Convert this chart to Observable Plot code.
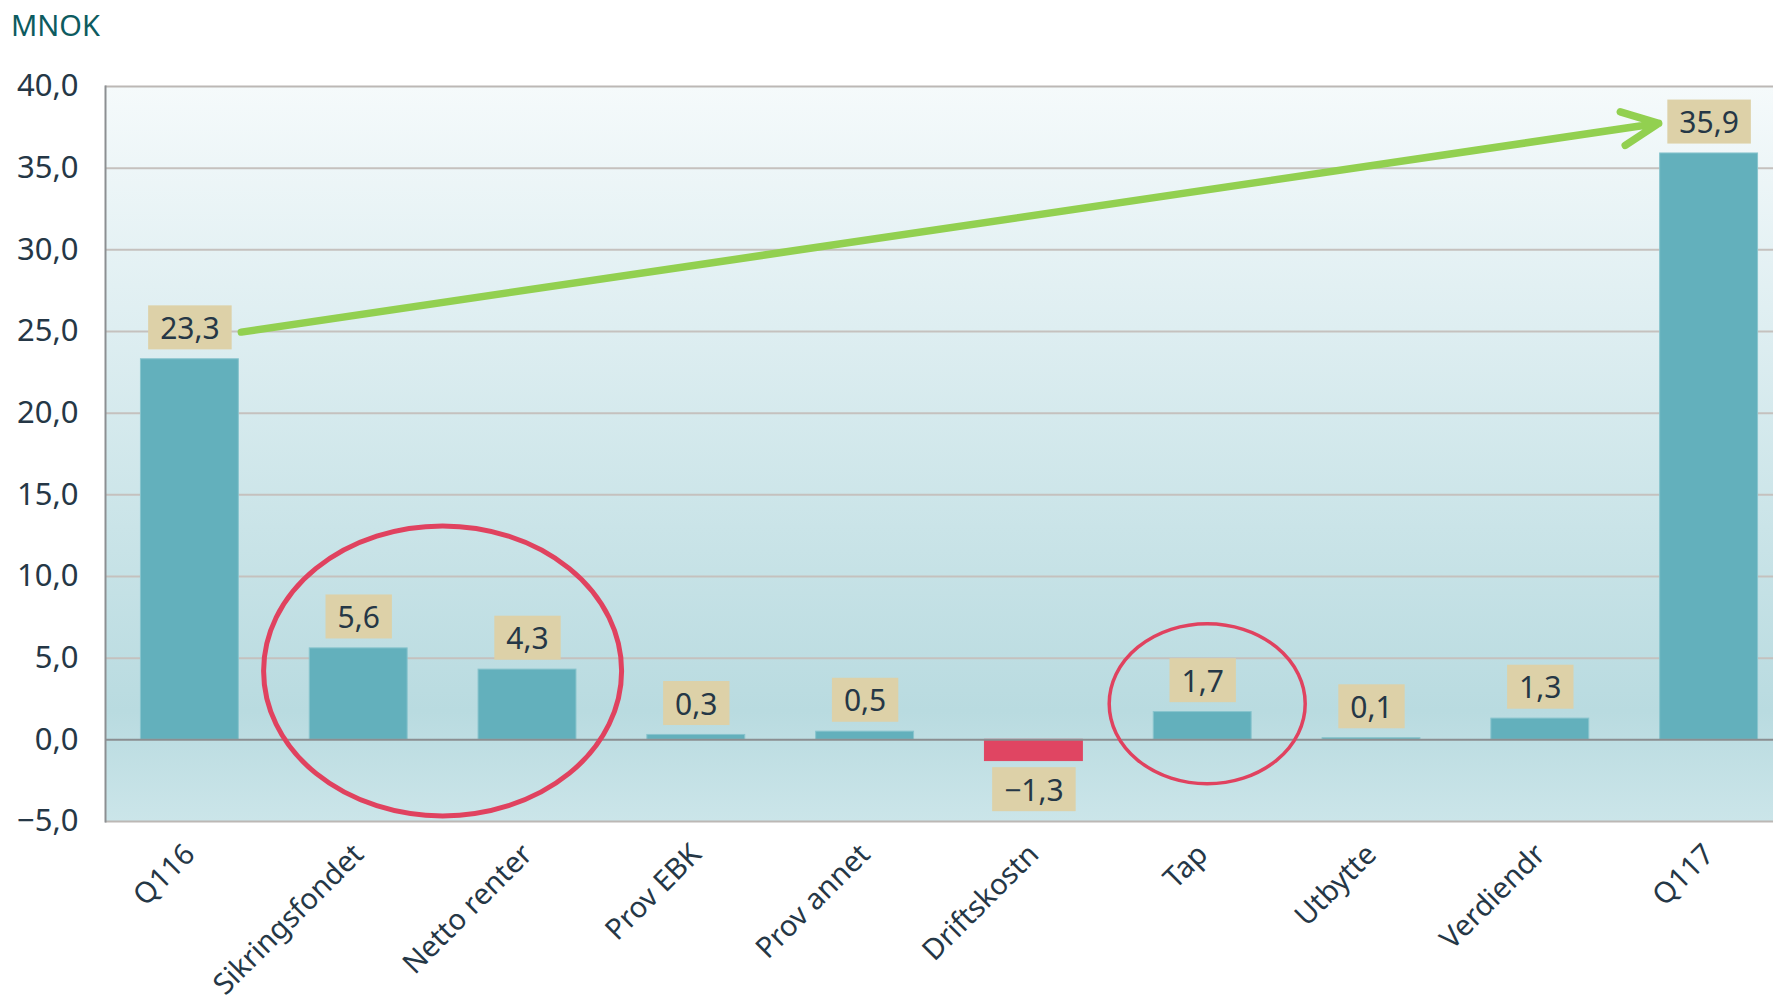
<!DOCTYPE html>
<html><head><meta charset="utf-8">
<script src="https://cdn.jsdelivr.net/npm/d3@7"></script>
<script src="https://cdn.jsdelivr.net/npm/@observablehq/plot@0.6"></script>
<style>
html,body{margin:0;padding:0;background:#fff;overflow:hidden;width:1773px;height:1003px;}
#wrap{position:relative;width:1773px;height:1003px;overflow:hidden;}
#title{position:absolute;left:11px;top:6px;font:29px "Noto Sans";color:#0d5b60;line-height:38px;}
#wrap svg{position:absolute;left:0;top:0;max-width:none !important;width:1793px;height:1003px;}
</style></head><body><div id="wrap"><div id="title">MNOK</div></div>
<script>
// ---- data ----
const categories = ["Q116","Sikringsfondet","Netto renter","Prov EBK","Prov annet","Driftskostn","Tap","Utbytte","Verdiendr","Q117"];
const values = [23.3, 5.6, 4.3, 0.3, 0.5, -1.3, 1.7, 0.1, 1.3, 35.9];
const yTicks = [-5, 0, 5, 10, 15, 20, 25, 30, 35, 40];
const gridTicks = [5, 10, 15, 20, 25, 30, 35];
// annotation arrow (Q116 -> Q117) and hand-drawn circles
const arrowData = [{x1: "Q116", y1: 24.5, x2: "Q117", y2: 38.2}];
const circleData = [
  {from: "Sikringsfondet", to: "Netto renter", value: 4.19, rx: 179, ry: 145, width: 5, dx: 0},
  {from: "Tap", to: "Tap", value: 2.18, rx: 98, ry: 80, width: 3.5, dx: 5}
];

const data = categories.map((c, i) => ({category: c, value: values[i]}));
const fmt = v => (v < 0 ? "\u2212" : "") + Math.abs(v).toFixed(1).replace(".", ",");
const ns = "http://www.w3.org/2000/svg";
const textColor = "#253746";

const defsMark = () => {
  const defs = document.createElementNS(ns, "defs");
  defs.innerHTML = `<linearGradient id="bgGrad" x1="0" y1="0" x2="0" y2="1">
    <stop offset="0" stop-color="#f5fafb"/>
    <stop offset="0.3" stop-color="#e0eff2"/>
    <stop offset="0.6" stop-color="#cae4e8"/>
    <stop offset="0.85" stop-color="#b9dbe0"/>
    <stop offset="1" stop-color="#cbe5e9"/>
  </linearGradient>`;
  return defs;
};

const circleMark = (index, scales) => {
  const g = document.createElementNS(ns, "g");
  const x = scales.x, y = scales.y;
  const bw = x.bandwidth ? x.bandwidth() : 0;
  for (const c of circleData) {
    const cx = (x(c.from) + x(c.to) + bw) / 2 + c.dx;
    const cy = y(c.value);
    const e = document.createElementNS(ns, "ellipse");
    e.setAttribute("cx", cx); e.setAttribute("cy", cy);
    e.setAttribute("rx", c.rx); e.setAttribute("ry", c.ry);
    e.setAttribute("fill", "none");
    e.setAttribute("stroke", "#e0425f");
    e.setAttribute("stroke-width", c.width);
    g.appendChild(e);
  }
  return g;
};

const labelGroups = [];
const capture = (index, scales, vals, dims, ctx, next) => {
  const g = next(index, scales, vals, dims, ctx);
  labelGroups.push(g);
  return g;
};

const chart = Plot.plot({
  width: 1793,
  height: 1003,
  marginLeft: 105,
  marginRight: 0,
  marginTop: 86,
  marginBottom: 182,
  style: {fontFamily: "Noto Sans", background: "transparent", maxWidth: "none"},
  x: {domain: categories, paddingInner: 0.42, paddingOuter: 0.21, round: false, label: null},
  y: {domain: [-5, 40], label: null},
  color: {type: "identity"},
  marks: [
    defsMark,
    Plot.frame({fill: "url(#bgGrad)", stroke: "none"}),
    Plot.ruleY(gridTicks, {stroke: "#c5c1be", strokeWidth: 2}),
    Plot.ruleY([40, -5], {stroke: "#bcb8b5", strokeWidth: 2}),
    Plot.barY(data, {
      x: "category", y: "value",
      fill: d => d.value < 0 ? "#e04562" : "#63b0bc",
      stroke: d => d.value < 0 ? "#e04562" : "#88c4cd",
      strokeWidth: 1
    }),
    Plot.ruleY([0], {stroke: "#8b8e91", strokeWidth: 2}),
    Plot.frame({anchor: "left", stroke: "#8c8f92", strokeWidth: 2}),
    Plot.text(data.filter(d => d.value >= 0), {
      x: "category", y: "value", text: d => fmt(d.value), dy: -30,
      fontSize: 30, fill: textColor, render: capture
    }),
    Plot.text(data.filter(d => d.value < 0), {
      x: "category", y: "value", text: d => fmt(d.value), dy: 30,
      fontSize: 30, fill: textColor, render: capture
    }),
    Plot.arrow(arrowData, {
      x1: "x1", y1: "y1", x2: "x2", y2: "y2",
      stroke: "#92d050", strokeWidth: 7.5, headLength: 8, headAngle: 50,
      insetStart: 52, insetEnd: 51, strokeLinecap: "round", strokeLinejoin: "round"
    }),
    circleMark,
    Plot.axisY({ticks: yTicks, tickFormat: fmt, tickSize: 0, tickPadding: 27, fontSize: 31, fill: textColor, label: null}),
    Plot.axisX({tickRotate: -45, tickSize: 0, tickPadding: 28, fontSize: 29, fill: textColor, label: null})
  ]
});

document.getElementById("wrap").appendChild(chart);

for (const g of labelGroups) {
  for (const t of Array.from(g.querySelectorAll("text"))) {
    const b = t.getBBox();
    const r = document.createElementNS(ns, "rect");
    r.setAttribute("x", b.x - 12);
    r.setAttribute("width", b.width + 24);
    const cy = b.y + b.height / 2;
    r.setAttribute("y", cy - 22);
    r.setAttribute("height", 44);
    r.setAttribute("fill", "#ddd1a8");
    r.setAttribute("stroke", "none");
    const tr = t.getAttribute("transform");
    if (tr) r.setAttribute("transform", tr);
    t.parentNode.insertBefore(r, t);
  }
}
</script></body></html>
